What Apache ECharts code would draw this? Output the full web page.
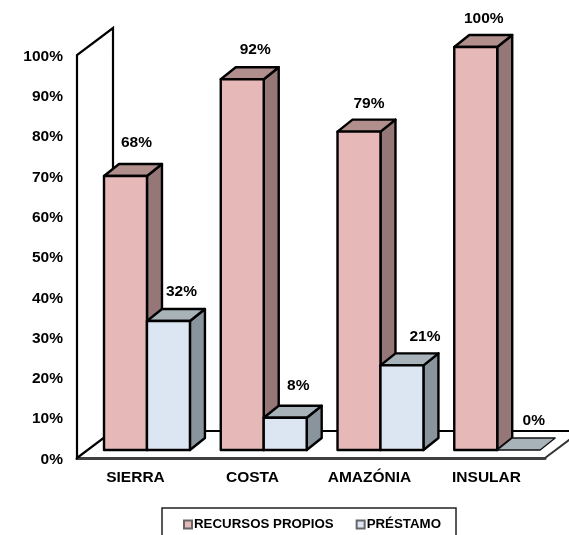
<!DOCTYPE html>
<html><head><meta charset="utf-8">
<style>html,body{margin:0;padding:0;background:#fff}#c{width:569px;height:535px}</style>
<script src="https://cdn.jsdelivr.net/npm/echarts@6/dist/echarts.min.js"></script>
</head><body><div id="c"></div>
<script>
const categories = ['SIERRA','COSTA','AMAZÓNIA','INSULAR'];
const recursosPropios = [68,92,79,100];
const prestamo = [32,8,21,0];
const yTicks = [0,10,20,30,40,50,60,70,80,90,100];

// label fine-tuning in pixels relative to the bar's top centre [dx, dy]
const labelNudgeA = [[11,-33],[13,-30],[10,-28],[8,-28]];
const labelNudgeB = [[13,-29],[13,-32],[23,-29],[15,-29]];

const FONT = '"Liberation Sans", Arial, sans-serif';
const DX = 15, DY = -12;

function barSeries(name, values, side, nudges, front, sideCol, topCol){
  return {
    type:'custom', name, coordinateSystem:'cartesian2d', xAxisIndex:1, yAxisIndex:1,
    data: values.map((v,i)=>[i,v]), clip:false, z:5,
    itemStyle:{color:front,borderColor:'#666',borderWidth:1},
    renderItem(params, api){
      const i = api.value(0), v = api.value(1);
      const top = api.coord([i,v]), base = api.coord([i,0]);
      const w = api.size([1,0])[0]*0.368;
      const x0 = top[0] + (side<0 ? -w : 0), x1 = x0+w;
      const y0 = top[1], y1 = base[1];
      const flat = v === 0;
      const st = c => ({fill:c, stroke:flat?'#111':'#000', lineWidth:flat?1.3:2.4, lineJoin:'round'});
      const poly = (pts,c)=>({type:'polygon',shape:{points:pts},style:st(c)});
      const n = nudges[i];
      const kids = [];
      if(!flat) kids.push(poly([[x1,y0],[x1+DX,y0+DY],[x1+DX,y1+DY],[x1,y1]], sideCol));
      kids.push(poly([[x0,y0],[x0+DX,y0+DY],[x1+DX,y0+DY],[x1,y0]], topCol));
      if(!flat) kids.push({type:'rect',shape:{x:x0,y:y0,width:w,height:y1-y0},style:st(front)});
      kids.push({type:'text',z2:50,style:{text:v+'%',x:(x0+x1)/2+n[0],y:y0+n[1],
          align:'center',verticalAlign:'middle',
          font:'bold 15.5px '+FONT,fill:'#000'}});
      return {type:'group',children:kids};
    }
  };
}

const wallSeries = {
  type:'custom', coordinateSystem:'cartesian2d', xAxisIndex:0, yAxisIndex:0,
  data:[[0,0]], clip:false, silent:true, z:1,
  renderItem(params){
    const g = params.coordSys, bx = 36, by = -27;
    const xl = g.x, yt = g.y, yb = g.y+g.height, xr = g.x+g.width;
    const ln = {stroke:'#000',lineWidth:2,fill:'none'};
    return {type:'group',children:[
      {type:'polygon',shape:{points:[[xl,yb],[xl,yt],[xl+bx,yt+by],[xl+bx,yb+by]]},style:{fill:'#fff',stroke:'#000',lineWidth:2.2}},
      {type:'polyline',shape:{points:[[xl+bx,yb+by],[xr+bx,yb+by]]},style:ln},
      {type:'polyline',shape:{points:[[xr,yb],[xr+bx,yb+by]]},style:{stroke:'#333',lineWidth:2,fill:'none'}}
    ]};
  }
};

const chart = echarts.init(document.getElementById('c'),null,{renderer:'canvas'});
chart.setOption({
  animation:false,
  backgroundColor:'#fff',
  grid:[
    {left:77,top:55,width:468,height:403},
    {left:88.6,top:47,width:467,height:403}
  ],
  xAxis:[
    {type:'category',gridIndex:0,data:categories,
     axisLine:{show:true,lineStyle:{color:'#404040',width:3}},axisTick:{show:false},
     axisLabel:{color:'#000',fontFamily:FONT,fontWeight:'bold',fontSize:15.5,margin:12}},
    {type:'category',gridIndex:1,data:categories,show:false}
  ],
  yAxis:[
    {type:'value',gridIndex:0,min:0,max:100,interval:10,
     axisLine:{show:false},axisTick:{show:false},splitLine:{show:false},
     axisLabel:{margin:14,
       formatter:v=>yTicks.includes(v)?'{v|'+v+'%}':'',
       rich:{v:{color:'#000',fontFamily:FONT,fontWeight:'bold',fontSize:15.5,padding:[3,0,0,0]}}}},
    {type:'value',gridIndex:1,min:0,max:100,interval:10,show:false,splitLine:{show:false}}
  ],
  legend:{
    show:true,left:162,top:508,orient:'horizontal',
    padding:[10,15,20,21],itemWidth:8,itemHeight:8,itemGap:22,
    icon:'rect',borderColor:'#222',borderWidth:1.5,backgroundColor:'#fff',
    data:['RECURSOS PROPIOS','PRÉSTAMO'],
    textStyle:{color:'#000',fontFamily:FONT,fontWeight:'bold',fontSize:13.3,padding:[0,0,0,-3]}
  },
  series:[
    wallSeries,
    barSeries('RECURSOS PROPIOS',recursosPropios,-1,labelNudgeA,'#E6B8B7','#957777','#B18F8D'),
    barSeries('PRÉSTAMO',prestamo,1,labelNudgeB,'#DCE6F2','#8A949C','#A8B2B9')
  ]
});
</script></body></html>
